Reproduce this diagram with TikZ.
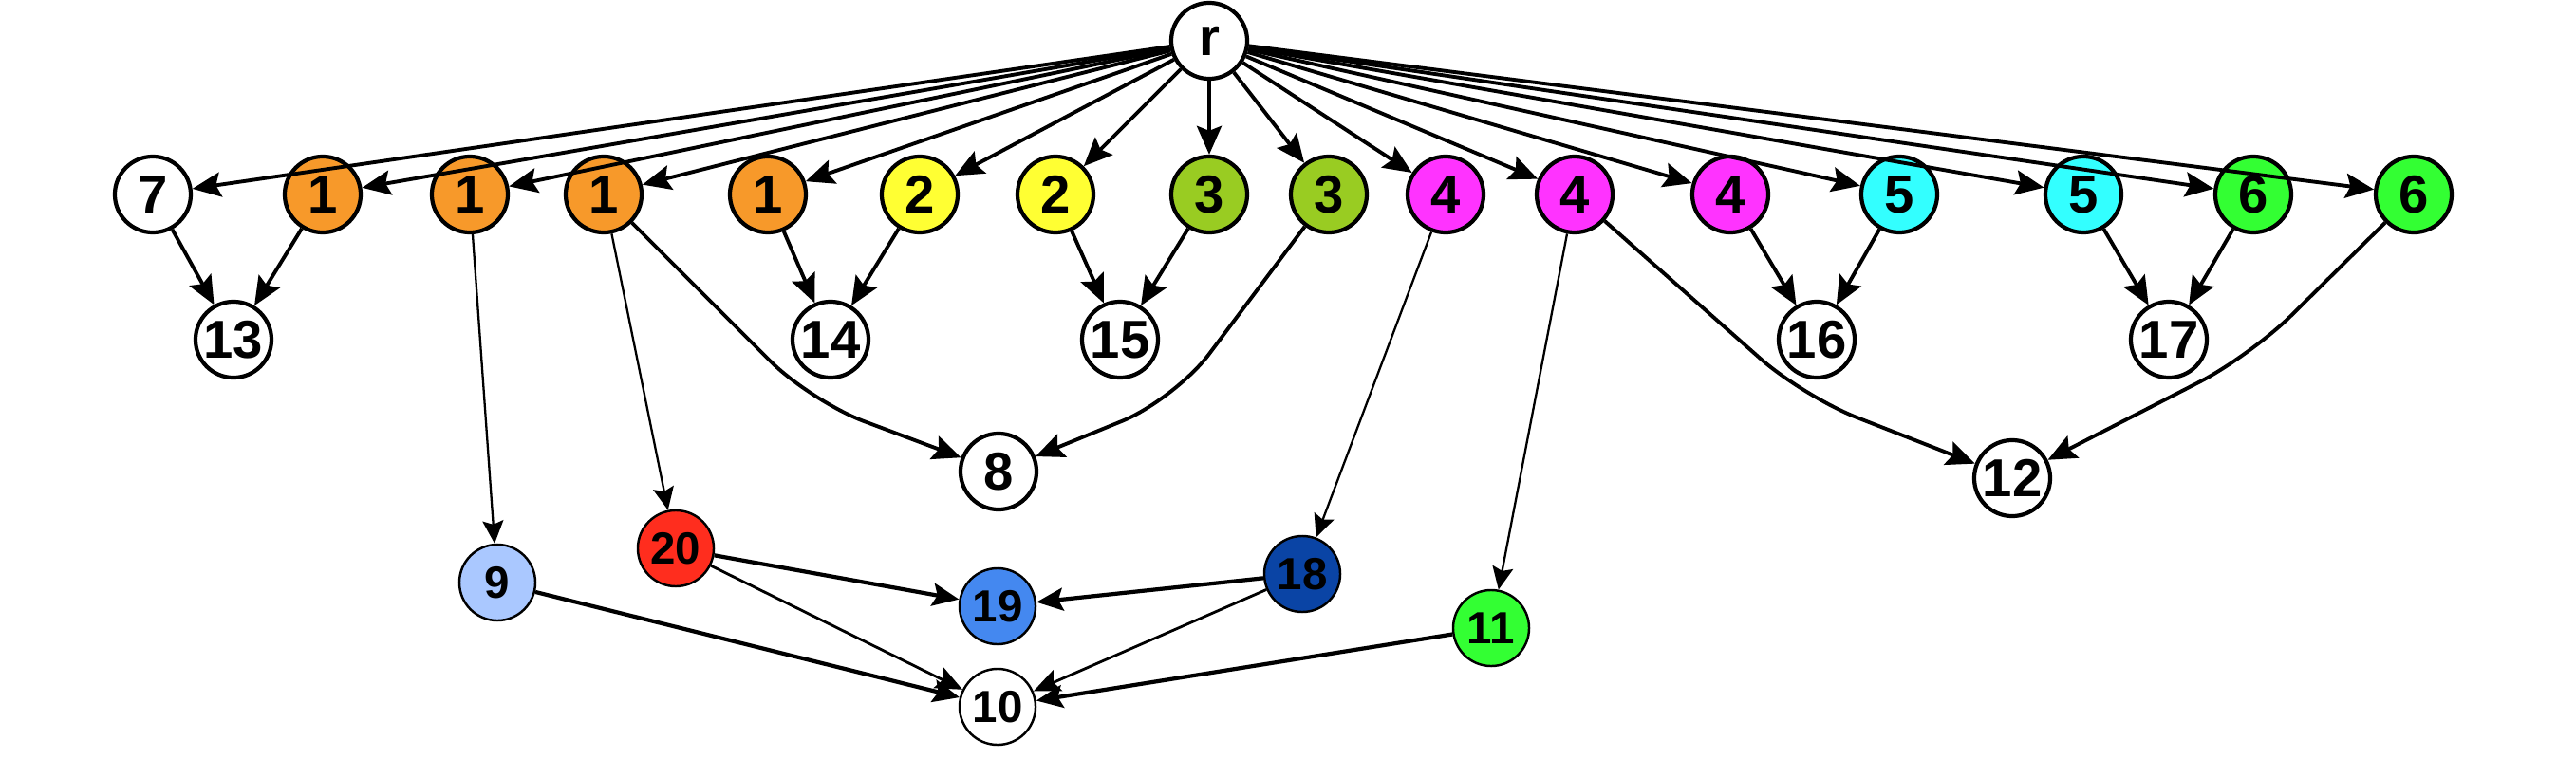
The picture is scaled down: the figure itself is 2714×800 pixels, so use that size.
\documentclass[tikz,border=0pt]{standalone}
\usepackage{fontspec}
\setmainfont{Liberation Sans}
\usetikzlibrary{arrows.meta}
\definecolor{corange}{RGB}{247,153,42}
\definecolor{cyellow}{RGB}{255,255,51}
\definecolor{colive}{RGB}{153,204,34}
\definecolor{cmagenta}{RGB}{255,51,255}
\definecolor{ccyan}{RGB}{51,255,255}
\definecolor{cgreen}{RGB}{51,255,51}
\definecolor{clight}{RGB}{170,200,255}
\definecolor{cred}{RGB}{255,45,30}
\definecolor{cblue}{RGB}{68,136,240}
\definecolor{cdark}{RGB}{10,68,165}
\begin{document}
\begin{tikzpicture}[x=0.01cm, y=-0.01cm,
    vtx/.style={circle, draw, line width=1.2pt, minimum size=0.8cm, inner sep=0pt,
        font=\fontsize{16}{16}\selectfont\bfseries},
    low/.style={vtx, line width=0.7pt, font=\fontsize{13.5}{13.5}\selectfont\bfseries},
    link/.style={line width=1.1pt, -{Stealth[length=3mm, width=2.6mm, inset=0.5mm]}},
    thinlink/.style={line width=0.65pt, -{Stealth[length=2.4mm, width=2.2mm, inset=0.4mm]}},
    lowlink/.style={line width=1.2pt, -{Stealth[length=2.8mm, width=2.4mm, inset=0.5mm]}},
    curvelink/.style={link, rounded corners=6mm}]
    \useasboundingbox (0,0) rectangle (2714,800);
    \node[vtx] (nr) at (1274,43) {r};
    \node[vtx] (n7) at (161,205) {7};
    \node[vtx, fill=corange] (n1a) at (340,205) {1};
    \node[vtx, fill=corange] (n1b) at (495,205) {1};
    \node[vtx, fill=corange] (n1c) at (636,205) {1};
    \node[vtx, fill=corange] (n1d) at (809,205) {1};
    \node[vtx, fill=cyellow] (n2a) at (969,205) {2};
    \node[vtx, fill=cyellow] (n2b) at (1112,205) {2};
    \node[vtx, fill=colive] (n3a) at (1274,205) {3};
    \node[vtx, fill=colive] (n3b) at (1400,205) {3};
    \node[vtx, fill=cmagenta] (n4a) at (1523,205) {4};
    \node[vtx, fill=cmagenta] (n4b) at (1659,205) {4};
    \node[vtx, fill=cmagenta] (n4c) at (1823,205) {4};
    \node[vtx, fill=ccyan] (n5a) at (2001,205) {5};
    \node[vtx, fill=ccyan] (n5b) at (2195,205) {5};
    \node[vtx, fill=cgreen] (n6a) at (2374,205) {6};
    \node[vtx, fill=cgreen] (n6b) at (2543,205) {6};
    \node[vtx] (n13) at (246,358) {13};
    \node[vtx] (n14) at (875,358) {14};
    \node[vtx] (n15) at (1180,358) {15};
    \node[vtx] (n16) at (1914,358) {16};
    \node[vtx] (n17) at (2285,358) {17};
    \node[vtx] (n8) at (1052,497) {8};
    \node[vtx] (n12) at (2120,504) {12};
    \node[low, fill=cred] (n20) at (712,578) {20};
    \node[low, fill=clight] (n9) at (524,614) {9};
    \node[low, fill=cblue] (n19) at (1051,639) {19};
    \node[low, fill=cdark] (n18) at (1372,605) {18};
    \node[low, fill=cgreen] (n11) at (1571,662) {11};
    \node[low, fill=white] (n10) at (1051,745) {10};
    \coordinate (k8a) at (854,423);
    \coordinate (k8b) at (1238,421);
    \coordinate (k12a) at (1900,418);
    \coordinate (k12b) at (2371,375);
    \draw[link] (nr) -- (n7);
    \draw[link] (nr) -- (n1a);
    \draw[link] (nr) -- (n1b);
    \draw[link] (nr) -- (n1c);
    \draw[link] (nr) -- (n1d);
    \draw[link] (nr) -- (n2a);
    \draw[link] (nr) -- (n2b);
    \draw[link] (nr) -- (n3a);
    \draw[link] (nr) -- (n3b);
    \draw[link] (nr) -- (n4a);
    \draw[link] (nr) -- (n4b);
    \draw[link] (nr) -- (n4c);
    \draw[link] (nr) -- (n5a);
    \draw[link] (nr) -- (n5b);
    \draw[link] (nr) -- (n6a);
    \draw[link] (nr) -- (n6b);
    \draw[link] (n7) -- (n13);
    \draw[link] (n1a) -- (n13);
    \draw[link] (n1d) -- (n14);
    \draw[link] (n2a) -- (n14);
    \draw[link] (n2b) -- (n15);
    \draw[link] (n3a) -- (n15);
    \draw[link] (n4c) -- (n16);
    \draw[link] (n5a) -- (n16);
    \draw[link] (n5b) -- (n17);
    \draw[link] (n6a) -- (n17);
    \draw[curvelink] (n1c) -- (k8a) -- (n8);
    \draw[curvelink] (n3b) -- (k8b) -- (n8);
    \draw[curvelink] (n4b) -- (k12a) -- (n12);
    \draw[curvelink] (n6b) -- (k12b) -- (n12);
    \draw[thinlink] (n1b) -- (n9);
    \draw[thinlink] (n1c) -- (n20);
    \draw[thinlink] (n4a) -- (n18);
    \draw[thinlink] (n4b) -- (n11);
    \draw[lowlink] (n20) -- (n19);
    \draw[lowlink] (n18) -- (n19);
    \draw[lowlink] (n9) -- (n10);
    \draw[lowlink] (n11) -- (n10);
    \draw[lowlink, line width=0.8pt] (n20) -- (n10);
    \draw[lowlink, line width=0.8pt] (n18) -- (n10);
\end{tikzpicture}
\end{document}
